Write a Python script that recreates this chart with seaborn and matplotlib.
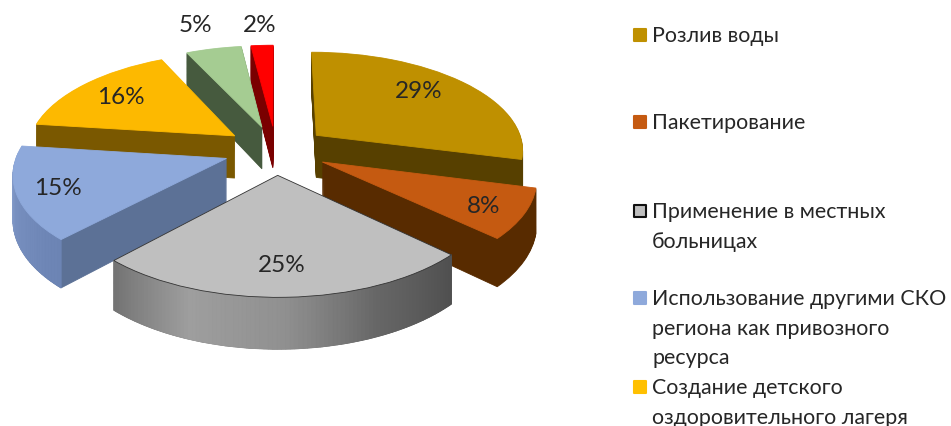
import numpy as np
import matplotlib
matplotlib.use("Agg")
import matplotlib.pyplot as plt
import matplotlib.transforms as mtransforms
import seaborn as sns

# slices, clockwise from the top
shares = [29, 8, 25, 15, 16, 5, 2]
percent_labels = ["29%", "8%", "25%", "15%", "16%", "5%", "2%"]
legend_names = [
    ["Розлив воды"],
    ["Пакетирование"],
    ["Применение в местных", "больницах"],
    ["Использование другими СКО", "региона как привозного", "ресурса"],
    ["Создание детского", "оздоровительного лагеря"],
]

top_colors = ["#BF9000", "#C55A11", "#BFBFBF", "#8EA9DB", "#FDB900", "#A5CC92", "#FF0000"]
wall_colors = ["#574000", "#582B00", "#666666", "#5C7196", "#7A5800", "#465A3E", "#7A0000"]
legend_colors = ["#BF9000", "#C55A11", "#BFBFBF", "#8EA9DB", "#FFC000"]

# layout, in pixels of the final picture
label_xy = [(419, 92), (484, 207), (282, 266), (58, 189), (121, 98), (195, 25), (260, 25)]
legend_y = [36, 123, 212, 299, 388]
draw_rank = [3, 5, 6, 4, 2, 1, 0]
CX, CY = 276, 151
RX, RY = 208, 98
TILT = 0.135
DEPTH = 43
EXPLODE = 0.25


def project(x, y, z=0.0):
    w = 1 + TILT * y
    return CX + RX * x / w, CY - RY * y / w + z / w


class Perspective(mtransforms.Transform):
    input_dims = 2
    output_dims = 2

    def __init__(self, z):
        super().__init__()
        self.z = z

    def transform_non_affine(self, values):
        values = np.asarray(values)
        sx, sy = project(values[:, 0], values[:, 1], self.z)
        return np.column_stack([sx, sy])


def draw_pie(ax, colors, z, order):
    wedges = ax.pie(shares, colors=colors, startangle=90, counterclock=False,
                    explode=[EXPLODE] * len(shares),
                    wedgeprops={"linewidth": 0.6})[0]
    persp = Perspective(z)
    for i, wedge in enumerate(wedges):
        wedge.set_edgecolor(colors[i])
        wedge.set_transform(persp + ax.transData)
        wedge.set_zorder(draw_rank[i] + order)
    return wedges


def outer_wall(ax, wedge, palette, zorder):
    angles = np.linspace(wedge.theta1, wedge.theta2, len(palette) + 1)
    cx, cy = wedge.center
    for a, b, color in zip(angles[:-1], angles[1:], palette):
        t = np.radians([a, b])
        x = cx + np.cos(t)
        y = cy + np.sin(t)
        x0, y0 = project(x, y, 0)
        x1, y1 = project(x, y, DEPTH)
        ax.fill([x0[0], x0[1], x1[1], x1[0]], [y0[0], y0[1], y1[1], y1[0]],
                facecolor=color, edgecolor=color, linewidth=0.8, zorder=zorder)


sns.set_theme(style="white")
plt.rcParams["font.family"] = ["Lato", "DejaVu Sans"]

fig = plt.figure(figsize=(9.51, 4.27), dpi=100)
ax = fig.add_axes([0, 0, 1, 1])

for z in range(DEPTH, 0, -1):
    draw_pie(ax, wall_colors, z, 0.4 * (DEPTH - z) / DEPTH)
top = draw_pie(ax, top_colors, 0, 0.8)

gray_wall = sns.blend_palette(["#747474", "#9E9E9E", "#909090", "#666666", "#505050"], 90)
blue_wall = sns.blend_palette(["#9DB4DE", "#7890C0", "#6C84B4"], 40)
outer_wall(ax, top[2], gray_wall, draw_rank[2] + 0.6)
outer_wall(ax, top[3], blue_wall, draw_rank[3] + 0.6)
top[2].set_edgecolor("#333333")

for (x, y), text in zip(label_xy, percent_labels):
    ax.text(x, y, text, ha="center", va="center", fontsize=17.5, color="#262626", zorder=20)

for y, lines, color in zip(legend_y, legend_names, legend_colors):
    edge = "#111111" if color == "#BFBFBF" else color
    ax.scatter([639.5], [y], marker="s", s=72, color=color, edgecolor=edge,
               linewidth=1.5, zorder=20)
    for n, line in enumerate(lines):
        ax.text(652, y + n * 29.7, line, ha="left", va="center", fontsize=15.4,
                color="#262626", zorder=20)

ax.set_xlim(0, 951)
ax.set_ylim(427, 0)
ax.set_aspect("auto")
ax.set_axis_off()
fig.savefig("out.png", dpi=100)
